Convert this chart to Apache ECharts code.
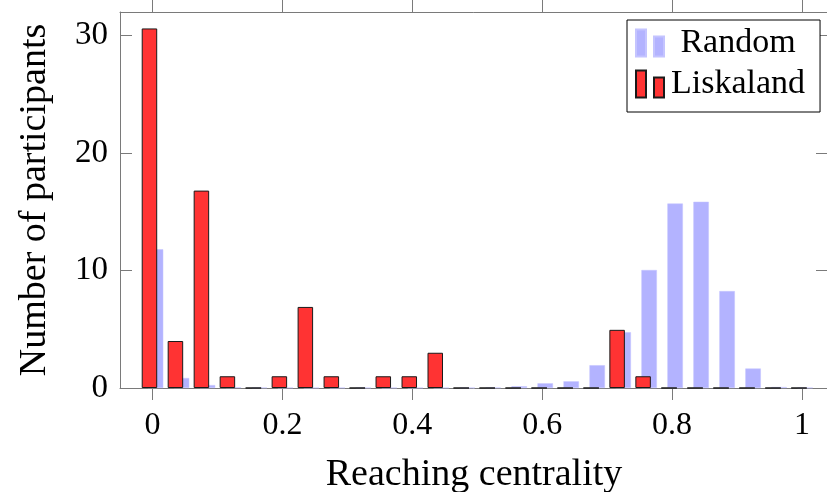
<!DOCTYPE html>
<html>
<head>
<meta charset="utf-8">
<script src="https://cdn.jsdelivr.net/npm/echarts@6/dist/echarts.min.js"></script>
<style>
html,body{margin:0;padding:0;background:#fff;}
#c{width:827px;height:492px;}
</style>
</head>
<body>
<div id="c"></div>
<script>
// Bin positions (reaching centrality)
var bins = [0, 0.04, 0.08, 0.12, 0.16, 0.20, 0.24, 0.28, 0.32, 0.36, 0.40, 0.44, 0.48,
            0.52, 0.56, 0.60, 0.64, 0.68, 0.72, 0.76, 0.80, 0.84, 0.88, 0.92, 0.96, 1.00];
// Number of participants per bin
var randomVals = [11.8, 0.85, 0.25, 0.06, 0.03, 0.03, 0.02, 0.02, 0.02, 0.02, 0.02, 0.02, 0.02,
                  0.04, 0.15, 0.4, 0.57, 1.94, 4.75, 10.04, 15.7, 15.85, 8.25, 1.66, 0.08, 0.02];
var liskalandVals = [30.6, 4, 16.8, 1, 0, 1, 6.9, 1, 0, 1, 1, 3, 0,
                     0, 0, 0, 0, 0, 4.95, 1, 0, 0, 0, 0, 0, 0];
var xTicks = [0, 0.2, 0.4, 0.6, 0.8, 1];
var xTickLabels = ['0', '0.2', '0.4', '0.6', '0.8', '1'];
var yTicks = [0, 10, 20, 30];

var FONT = 'Liberation Serif';
var AXIS_COLOR = '#7a7a7a';
var ICON = 'path://M0,0h10v27h-10z M18,7h10v20h-10z';

function pairs(xs, ys) { return xs.map(function (x, i) { return [x, ys[i]]; }); }

var chart = echarts.init(document.getElementById('c'), null, {renderer: 'canvas'});
var option = {
  animation: false,
  backgroundColor: '#fff',
  grid: {left: 120, top: 12, width: 708, height: 376, containLabel: false, outerBoundsMode: 'none'},
  legend: {
    orient: 'vertical',
    left: 627, top: 20,
    padding: [6, 15, 11, 8],
    backgroundColor: '#fff',
    borderColor: '#000',
    borderWidth: 1,
    borderRadius: 0,
    itemWidth: 28, itemHeight: 27,
    itemGap: 7,
    icon: ICON,
    data: ['Random', 'Liskaland'],
    formatter: function (name) { return '{t|' + name + '}'; },
    textStyle: {
      fontFamily: FONT, fontSize: 34, color: '#000',
      rich: {t: {fontFamily: FONT, fontSize: 34, width: 138, align: 'center', color: '#000'}}
    }
  },
  xAxis: [{
    type: 'value', min: -0.05, max: 1.04, position: 'bottom',
    name: 'Reaching centrality', nameLocation: 'middle', nameGap: 68,
    nameTextStyle: {fontFamily: FONT, fontSize: 38, color: '#000'},
    splitLine: {show: false},
    axisLine: {show: true, onZero: false, lineStyle: {color: AXIS_COLOR, width: 1}},
    axisTick: {show: true, inside: false, length: 12, customValues: xTicks, lineStyle: {color: AXIS_COLOR}},
    axisLabel: {
      show: true, margin: 22, customValues: xTicks,
      fontFamily: FONT, fontSize: 32, color: '#000',
      formatter: function (v) { var i = xTicks.indexOf(v); return i >= 0 ? xTickLabels[i] : ''; }
    }
  }, {
    type: 'value', min: -0.05, max: 1.04, position: 'top',
    splitLine: {show: false},
    axisLine: {show: true, onZero: false, lineStyle: {color: AXIS_COLOR, width: 1}},
    axisTick: {show: true, inside: false, length: 12, customValues: xTicks, lineStyle: {color: AXIS_COLOR}},
    axisLabel: {show: false}
  }],
  yAxis: [{
    type: 'value', min: 0, max: 32, interval: 10, position: 'left',
    name: 'Number of participants', nameLocation: 'middle', nameGap: 66,
    nameTextStyle: {fontFamily: FONT, fontSize: 38, color: '#000'},
    splitLine: {show: false},
    axisLine: {show: true, onZero: false, lineStyle: {color: AXIS_COLOR, width: 1}},
    axisTick: {show: true, inside: true, length: 12, lineStyle: {color: AXIS_COLOR}},
    axisLabel: {
      show: true, margin: 12, fontFamily: FONT, fontSize: 33, color: '#000',
      formatter: function (v) { return yTicks.indexOf(v) >= 0 ? String(v) : ''; }
    }
  }, {
    type: 'value', min: 0, max: 32, interval: 10, position: 'right',
    splitLine: {show: false},
    axisLine: {show: true, onZero: false, lineStyle: {color: AXIS_COLOR, width: 1}},
    axisTick: {show: true, inside: true, length: 12, lineStyle: {color: AXIS_COLOR}},
    axisLabel: {show: false}
  }],
  series: [{
    name: 'Liskaland', type: 'bar', xAxisIndex: 0, yAxisIndex: 0,
    data: pairs(bins, liskalandVals),
    barWidth: 15.5, barGap: '-61%',
    z: 5,
    itemStyle: {color: '#ff3333', borderColor: '#1a1a1a', borderWidth: 1}
  }, {
    name: 'Random', type: 'bar', xAxisIndex: 0, yAxisIndex: 0,
    data: pairs(bins, randomVals),
    barWidth: 15.5, barGap: '-61%',
    z: 3,
    itemStyle: {color: '#b3b3ff', borderColor: '#c4c4ff', borderWidth: 0.5}
  }]
};
chart.setOption(option);
</script>
</body>
</html>
